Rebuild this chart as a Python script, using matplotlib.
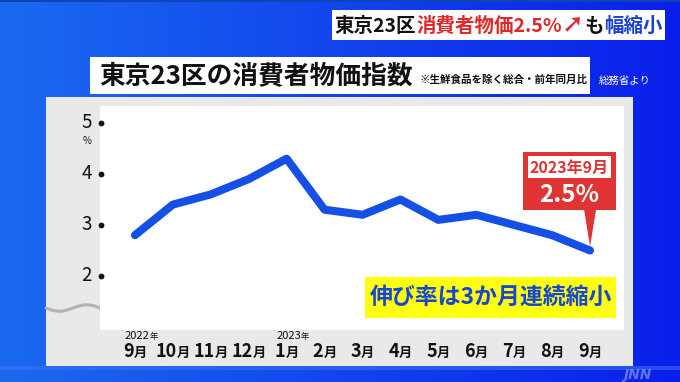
import numpy as np
import matplotlib
matplotlib.use('Agg')
import matplotlib.pyplot as plt
import matplotlib.colors as mcolors
from matplotlib.patches import Rectangle, Polygon
from matplotlib.offsetbox import TextArea, HPacker, AnnotationBbox

plt.rcParams['font.family'] = ['Noto Sans CJK JP', 'DejaVu Sans']

# ---------------- data ----------------
months = ['9', '10', '11', '12', '1', '2', '3', '4', '5', '6', '7', '8', '9']
year_labels = {0: '2022', 4: '2023'}
values = [2.8, 3.4, 3.6, 3.9, 4.3, 3.3, 3.2, 3.5, 3.1, 3.2, 3.0, 2.8, 2.5]
yticks = [2, 3, 4, 5]
callout_date = '2023年9月'
callout_value = '2.5%'
summary = '伸び率は3か月連続縮小'
title = '東京23区の消費者物価指数'
note = '※生鮮食品を除く総合・前年同月比'
source = '総務省より'
banner = [('東京23区', '#111111'), ('消費者物価2.5%', '#e0282a'), ('➚', '#e0282a'),
          ('も', '#111111'), ('幅縮小', '#1a3fd8')]

W, H = 680, 382
fig = plt.figure(figsize=(W / 100, H / 100), dpi=100)

# ---------------- background (pixel coords) ----------------
bg = fig.add_axes([0, 0, 1, 1])
bg.set_xlim(0, W)
bg.set_ylim(H, 0)
bg.axis('off')
c1 = np.array(mcolors.to_rgb('#1a6af0'))
c2 = np.array(mcolors.to_rgb('#0a1fea'))
t = np.linspace(0, 1, 256)[None, :, None]
grad = c1 * (1 - t) + c2 * t
bg.imshow(grad, extent=[0, W, H, 0], aspect='auto', zorder=0)
bg.add_patch(Rectangle((0, 0), W, 2, fc='#0d45b8', ec='none', zorder=1))
bg.add_patch(Rectangle((0, 366), W, 4, fc='#3a70f0', ec='none', alpha=0.6, zorder=1))
bg.add_patch(Rectangle((46, 97), 587, 269, fc='#e9e9e9', ec='none', zorder=2))
xs = np.linspace(46, 100, 60)
bg.plot(xs, 308 + 3.2 * np.sin(2 * np.pi * (xs - 46) / 54), color='#b3b3b3', lw=2.2,
        solid_capstyle='round', zorder=3)
bg.text(637, 375, 'JNN', fontsize=10, fontstyle='italic', fontweight='bold',
        color='#9aaae8', alpha=0.6, family='DejaVu Sans', ha='center', va='center', zorder=3)

# ---------------- main chart ----------------
ax = fig.add_axes([100 / W, 1 - 330 / H, 524 / W, 224 / H])
ax.set_facecolor('white')
for s in ax.spines.values():
    s.set_visible(False)
ax.set_xticks([])
ax.set_yticks([])
ax.set_xlim(-0.921, 12.895)
ax.set_ylim(0.941, 5.333)
x = np.arange(len(values))
ax.plot(x, values, color='#1450e6', lw=5.8, solid_capstyle='round',
        solid_joinstyle='round', zorder=4)

ytr = ax.get_yaxis_transform()
for v in yticks:
    ax.text(-0.025, v, str(v), transform=ytr, ha='center', va='center',
            fontsize=13.5, color='#111111')
ax.scatter([0.002] * len(yticks), yticks, transform=ytr, s=10, color='#111111',
           clip_on=False, zorder=5)
ax.text(-0.025, 4.65, '%', transform=ytr, ha='center', va='center', fontsize=7,
        color='#111111')

xtr = ax.get_xaxis_transform()
for i, m in enumerate(months):
    pk = HPacker(children=[TextArea(m, textprops=dict(fontsize=13, fontweight='bold', color='#111111')),
                           TextArea('月', textprops=dict(fontsize=9.5, fontweight='bold', color='#111111'))],
                 align='baseline', pad=0, sep=0)
    ab = AnnotationBbox(pk, (i, -0.098), xycoords=xtr, frameon=False,
                        box_alignment=(0.5, 0.5), annotation_clip=False)
    ax.add_artist(ab)
    if i in year_labels:
        yk = HPacker(children=[TextArea(year_labels[i], textprops=dict(fontsize=8, color='#111111')),
                               TextArea('年', textprops=dict(fontsize=6, color='#111111'))],
                     align='baseline', pad=0, sep=0)
        ab2 = AnnotationBbox(yk, (i, -0.025), xycoords=xtr, xybox=(-7.5, 0),
                             boxcoords='offset points', frameon=False,
                             box_alignment=(0, 0.5), annotation_clip=False)
        ax.add_artist(ab2)

# ---------------- overlay (pixel coords) ----------------
ov = fig.add_axes([0, 0, 1, 1])
ov.set_xlim(0, W)
ov.set_ylim(H, 0)
ov.axis('off')
ov.patch.set_alpha(0)

# top banner
ov.add_patch(Rectangle((332, 10), 333, 30, fc='white', ec='none'))
children = []
for s, c in banner:
    props = dict(fontsize=14, fontweight='bold', color=c)
    if s == '➚':
        props['family'] = ['DejaVu Sans']
        props['fontsize'] = 19
    children.append(TextArea(s, textprops=props))
bp = HPacker(children=children, align='baseline', pad=0, sep=0)
ov.add_artist(AnnotationBbox(bp, (498.5, 25), xycoords='data', frameon=False,
                             box_alignment=(0.5, 0.5)))

# title box
ov.add_patch(Rectangle((90, 57), 500, 37, fc='white', ec='none'))
tp = HPacker(children=[TextArea(title, textprops=dict(fontsize=18.5, fontweight='bold', color='#111111')),
                       TextArea(note, textprops=dict(fontsize=7.6, fontweight='bold', color='#111111'))],
             align='baseline', pad=0, sep=5)
ov.add_artist(AnnotationBbox(tp, (99, 75.5), xycoords='data', frameon=False,
                             box_alignment=(0, 0.5)))
ov.text(599, 81, source, fontsize=7.5, color='white', ha='left', va='center')

# callout anchored at last data point
disp = ax.transData.transform((x[-1], values[-1]))
px, py = ov.transData.inverted().transform(disp)
red = '#e03333'
bx0, bx1 = px - 67, px + 26
by0, by1 = py - 98, py - 40
ov.add_patch(Rectangle((bx0, by0), bx1 - bx0, by1 - by0, fc=red, ec='none'))
ov.add_patch(Polygon([(px - 6, by1 - 1), (px + 6, by1 - 1), (px, py - 4)], closed=True,
                     fc=red, ec='none'))
ov.add_patch(Rectangle((bx0 + 5, by0 + 4), bx1 - bx0 - 10, 22, fc='white', ec='none'))
ov.text((bx0 + bx1) / 2, by0 + 15, callout_date, fontsize=11.5, fontweight='bold',
        color=red, ha='center', va='center')
ov.text((bx0 + bx1) / 2, by0 + 43, callout_value, fontsize=17.5, fontweight='bold',
        color='white', ha='center', va='center')

# summary box
ov.add_patch(Rectangle((365, 277), 251, 41, fc='#ffff10', ec='none'))
ov.text(490.5, 297.5, summary, fontsize=16.5, fontweight='bold', color='#1846d4',
        ha='center', va='center')

fig.savefig('out.png', dpi=100)
